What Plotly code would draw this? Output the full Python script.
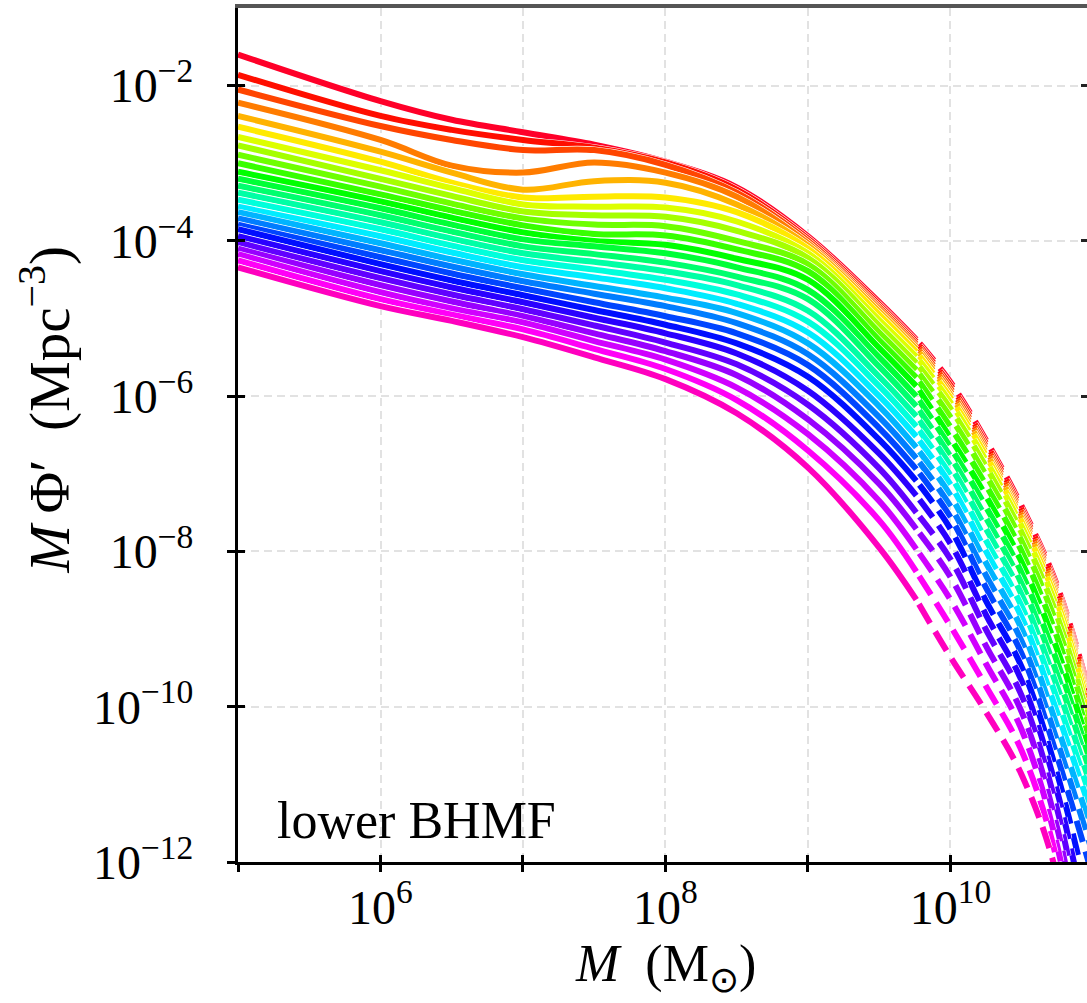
import plotly.graph_objects as go

# ---------------- data (log10 values) ----------------
# log10 M for the solid (lower-mass) part and for the dashed extrapolated tail
logM_solid = [5.0, 6.0, 6.5, 7.0, 7.5, 8.0, 8.5, 9.0, 9.5, 9.76]
logM_dash = [9.76, 10.0, 10.25, 10.5, 10.75, 11.0]

# each list: log10(M Phi') at logM_solid (10 values) then at logM_dash[1:] (5 values)
phi_00 = [-1.60, -2.20, -2.44, -2.60, -2.76, -2.98, -3.31, -3.94, -4.79, -5.27, -5.82, -6.57, -7.42, -8.45, -10.00]
phi_01 = [-1.86, -2.39, -2.57, -2.70, -2.80, -2.99, -3.34, -3.97, -4.82, -5.30, -5.86, -6.61, -7.46, -8.49, -10.04]
phi_02 = [-2.05, -2.52, -2.70, -2.83, -2.83, -3.02, -3.38, -4.00, -4.85, -5.33, -5.90, -6.65, -7.50, -8.53, -10.08]
phi_03 = [-2.22, -2.70, -3.03, -3.12, -2.99, -3.12, -3.43, -4.03, -4.88, -5.36, -5.94, -6.69, -7.54, -8.57, -10.12]
phi_04 = [-2.39, -2.85, -3.12, -3.34, -3.23, -3.25, -3.53, -4.06, -4.91, -5.39, -5.98, -6.73, -7.58, -8.61, -10.16]
phi_05 = [-2.53, -2.98, -3.25, -3.44, -3.43, -3.44, -3.63, -4.10, -4.95, -5.43, -6.02, -6.77, -7.62, -8.66, -10.21]
phi_06 = [-2.66, -3.09, -3.32, -3.53, -3.56, -3.57, -3.75, -4.16, -5.02, -5.49, -6.08, -6.83, -7.68, -8.74, -10.28]
phi_07 = [-2.77, -3.20, -3.42, -3.62, -3.67, -3.69, -3.87, -4.22, -5.09, -5.57, -6.16, -6.91, -7.76, -8.84, -10.36]
phi_08 = [-2.89, -3.30, -3.52, -3.71, -3.79, -3.81, -4.00, -4.30, -5.18, -5.66, -6.27, -7.02, -7.87, -8.96, -10.45]
phi_09 = [-3.00, -3.40, -3.61, -3.80, -3.91, -3.93, -4.11, -4.39, -5.28, -5.76, -6.40, -7.15, -8.00, -9.11, -10.56]
phi_10 = [-3.11, -3.49, -3.70, -3.89, -4.00, -4.05, -4.23, -4.50, -5.38, -5.87, -6.54, -7.29, -8.14, -9.27, -10.68]
phi_11 = [-3.20, -3.58, -3.79, -3.98, -4.07, -4.16, -4.34, -4.63, -5.50, -6.00, -6.66, -7.43, -8.28, -9.43, -10.81]
phi_12 = [-3.29, -3.67, -3.88, -4.07, -4.17, -4.28, -4.46, -4.75, -5.62, -6.13, -6.78, -7.57, -8.42, -9.59, -10.95]
phi_13 = [-3.38, -3.76, -3.97, -4.16, -4.27, -4.39, -4.57, -4.90, -5.75, -6.26, -6.90, -7.71, -8.56, -9.75, -11.10]
phi_14 = [-3.47, -3.85, -4.06, -4.25, -4.37, -4.50, -4.69, -5.04, -5.87, -6.39, -7.02, -7.86, -8.71, -9.91, -11.26]
phi_15 = [-3.56, -3.94, -4.15, -4.34, -4.47, -4.61, -4.81, -5.18, -6.00, -6.52, -7.14, -8.00, -8.85, -10.08, -11.43]
phi_16 = [-3.63, -4.03, -4.24, -4.43, -4.58, -4.73, -4.93, -5.32, -6.13, -6.66, -7.28, -8.15, -9.00, -10.26, -11.65]
phi_17 = [-3.71, -4.12, -4.33, -4.52, -4.68, -4.84, -5.06, -5.46, -6.27, -6.80, -7.42, -8.31, -9.16, -10.45, -11.90]
phi_18 = [-3.79, -4.21, -4.42, -4.61, -4.79, -4.97, -5.19, -5.60, -6.41, -6.94, -7.56, -8.47, -9.32, -10.65, -12.20]
phi_19 = [-3.85, -4.30, -4.51, -4.70, -4.89, -5.08, -5.32, -5.75, -6.56, -7.09, -7.71, -8.64, -9.49, -10.87, -12.75]
phi_20 = [-3.94, -4.39, -4.60, -4.79, -4.99, -5.19, -5.45, -5.93, -6.74, -7.28, -7.90, -8.82, -9.67, -11.10, -13.20]
phi_21 = [-4.02, -4.48, -4.69, -4.88, -5.09, -5.31, -5.59, -6.11, -6.93, -7.50, -8.10, -9.01, -9.86, -11.33, -13.60]
phi_22 = [-4.10, -4.57, -4.78, -4.97, -5.19, -5.42, -5.73, -6.30, -7.13, -7.71, -8.33, -9.22, -10.07, -11.57, -14.00]
phi_23 = [-4.17, -4.66, -4.87, -5.05, -5.29, -5.53, -5.89, -6.49, -7.35, -7.97, -8.62, -9.45, -10.30, -11.80, -14.40]
phi_24 = [-4.25, -4.75, -4.95, -5.14, -5.39, -5.65, -6.05, -6.70, -7.60, -8.26, -8.96, -9.74, -10.57, -12.00, -14.80]
phi_25 = [-4.34, -4.84, -5.03, -5.24, -5.50, -5.78, -6.22, -6.92, -7.95, -8.62, -9.36, -10.07, -10.88, -12.20, -15.20]

curves = [phi_00, phi_01, phi_02, phi_03, phi_04, phi_05, phi_06, phi_07, phi_08,
          phi_09, phi_10, phi_11, phi_12, phi_13, phi_14, phi_15, phi_16, phi_17,
          phi_18, phi_19, phi_20, phi_21, phi_22, phi_23, phi_24, phi_25]

x_major_exp = [6, 8, 10]
x_major_text = ["10<sup>6</sup>", "10<sup>8</sup>", "10<sup>10</sup>"]
x_minor_exp = [5, 7, 9]
y_tick_exp = [-12, -10, -8, -6, -4, -2]
y_tick_text = ["10<sup>−12</sup>", "10<sup>−10</sup>", "10<sup>−8</sup>",
               "10<sup>−6</sup>", "10<sup>−4</sup>", "10<sup>−2</sup>"]

# ---------------- style ----------------
RAINBOW = [(0.000, (1.00, 0.00, 0.16)), (0.030, (1.00, 0.00, 0.00)),
           (0.215, (1.00, 1.00, 0.00)), (0.400, (0.00, 1.00, 0.00)),
           (0.586, (0.00, 1.00, 1.00)), (0.770, (0.00, 0.00, 1.00)),
           (0.954, (1.00, 0.00, 1.00)), (1.000, (1.00, 0.00, 0.75))]


def rainbow(t):
    for (t0, c0), (t1, c1) in zip(RAINBOW[:-1], RAINBOW[1:]):
        if t <= t1:
            f = 0 if t1 == t0 else (t - t0) / (t1 - t0)
            rgb = [int(round(255 * (a + f * (b - a)))) for a, b in zip(c0, c1)]
            return "rgb(%d,%d,%d)" % tuple(rgb)
    return "rgb(255,0,191)"


FONT = "Liberation Serif"
LW = 6
WLW = 7.2
DASH = "0px,5px,22px,5px"

fig = go.Figure()
n = len(curves)
for i, vals in enumerate(curves):
    col = rainbow(i / (n - 1))
    xs = [10 ** m for m in logM_solid]
    ys = [10 ** v for v in vals[:len(logM_solid)]]
    xd = [10 ** m for m in logM_dash]
    yd = [10 ** v for v in vals[len(logM_solid) - 1:]]
    for (xx, yy, dash) in ((xs, ys, "solid"), (xd, yd, DASH)):
        fig.add_trace(go.Scatter(x=xx, y=yy, mode="lines",
                                 line=dict(color="white", width=WLW, shape="spline", dash=dash),
                                 hoverinfo="skip", showlegend=False))
        fig.add_trace(go.Scatter(x=xx, y=yy, mode="lines",
                                 line=dict(color=col, width=LW, shape="spline", dash=dash),
                                 hoverinfo="skip", showlegend=False))

# empty traces so the overlay axes (inner ticks / frame) are drawn
fig.add_trace(go.Scatter(x=[None], y=[None], xaxis="x2", yaxis="y2", showlegend=False, hoverinfo="skip"))
fig.add_trace(go.Scatter(x=[None], y=[None], xaxis="x3", yaxis="y3", showlegend=False, hoverinfo="skip"))

XR = [5, 10.958]
YR = [-12, -1]
x_major = [10.0 ** e for e in x_major_exp]
x_minor = [10.0 ** e for e in x_minor_exp]
x_all = sorted(x_major + x_minor)
ytv = [10.0 ** e for e in y_tick_exp]
GRIDC = "#e2e2e2"
GRID = dict(showgrid=True, gridcolor=GRIDC, gridwidth=2, griddash="8px,5px")

fig.update_layout(
    width=1087, height=1003,
    margin=dict(l=238, r=0, t=8, b=141),
    paper_bgcolor="white", plot_bgcolor="white",
    showlegend=False,
    font=dict(family=FONT, color="black"),
    xaxis=dict(type="log", range=XR, tickmode="array", tickvals=x_major, ticktext=x_major_text,
               ticks="outside", ticklen=7, tickwidth=2.5, tickcolor="black",
               showline=True, linecolor="black", linewidth=3, zeroline=False,
               tickfont=dict(family=FONT, size=48, color="black"),
               ticklabelstandoff=-6,
               minor=dict(tickmode="array", tickvals=x_minor, ticks="outside", ticklen=7,
                          tickwidth=2.5, tickcolor="black", showgrid=True,
                          gridcolor=GRIDC, gridwidth=2, griddash="8px,5px"),
               **GRID),
    yaxis=dict(type="log", range=YR, tickmode="array", tickvals=ytv, ticktext=y_tick_text,
               ticks="outside", ticklen=8, tickwidth=2.5, tickcolor="black",
               showline=True, linecolor="black", linewidth=3, zeroline=False,
               tickfont=dict(family=FONT, size=48, color="black"),
               ticklabelstandoff=24, **GRID),
    xaxis2=dict(type="log", range=XR, overlaying="x", side="bottom", anchor="y",
                tickmode="array", tickvals=x_all, ticks="inside", ticklen=7, tickwidth=2.5,
                tickcolor="black", showticklabels=False, showgrid=False, showline=False,
                zeroline=False),
    yaxis2=dict(type="log", range=YR, overlaying="y", side="left", anchor="x",
                tickmode="array", tickvals=ytv, ticks="inside", ticklen=7, tickwidth=2.5,
                tickcolor="black", showticklabels=False, showgrid=False, showline=False,
                zeroline=False),
    xaxis3=dict(type="log", range=XR, overlaying="x", side="top", anchor="y",
                ticks="", showticklabels=False, showgrid=False,
                showline=True, linecolor="#555555", linewidth=4, zeroline=False),
    yaxis3=dict(type="log", range=YR, overlaying="y", side="right", anchor="x",
                tickmode="array", tickvals=ytv, ticks="inside", ticklen=6, tickwidth=2.5,
                tickcolor="#222222", showticklabels=False, showgrid=False, showline=False,
                zeroline=False),
    annotations=[
        dict(text="lower BHMF", xref="paper", yref="paper", x=0.043, y=0.049,
             xanchor="left", yanchor="middle", showarrow=False,
             font=dict(family=FONT, size=52, color="black")),
        dict(text="<i>M</i>\u2009Φ′\u2002(Mpc<sup>−3</sup>)", xref="paper", yref="paper",
             x=-0.227, y=0.529, xanchor="center", yanchor="middle", textangle=-90,
             showarrow=False, font=dict(family=FONT, size=57, color="black")),
        dict(text="<i>M</i>\u2002(M<sub>⊙</sub>)", xref="paper", yref="paper",
             x=0.503, y=-0.124, xanchor="center", yanchor="middle",
             showarrow=False, font=dict(family=FONT, size=52, color="black")),
    ],
)

fig.write_html("out.html")
